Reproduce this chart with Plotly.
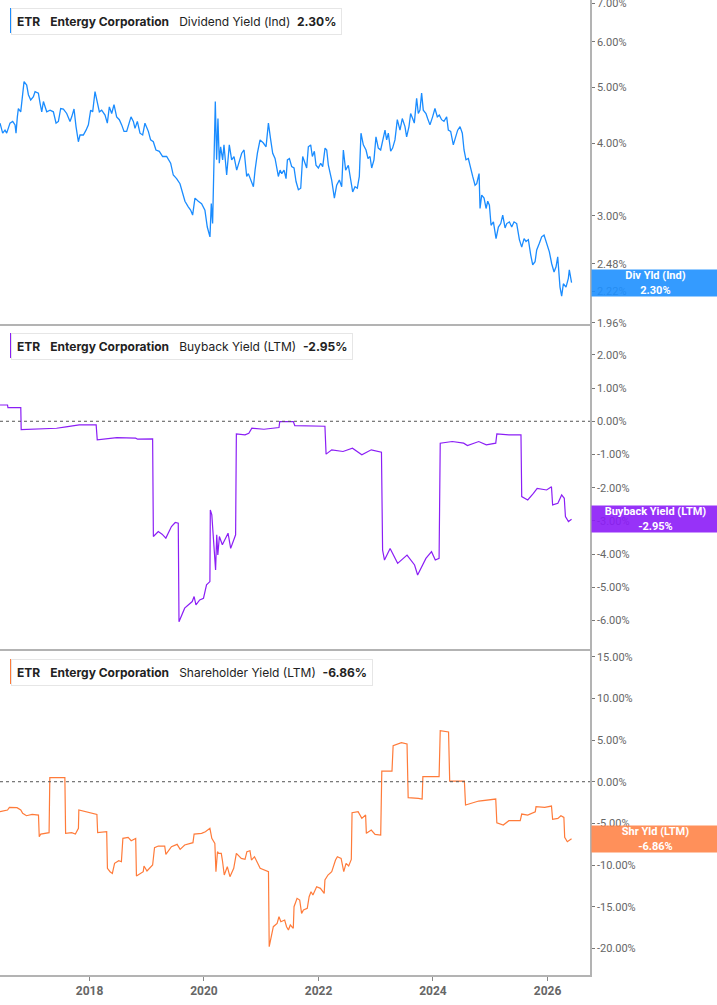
import numpy as np
import pandas as pd
import plotly.graph_objects as go

# ---------------- data (decimal years, percent) ----------------
div_years = [2016.437, 2016.483, 2016.524, 2016.553, 2016.611, 2016.658, 2016.699, 2016.716, 2016.739, 2016.757,
             2016.798, 2016.833, 2016.856, 2016.902, 2016.932, 2016.972, 2017.019, 2017.048, 2017.106, 2017.135,
             2017.165, 2017.194, 2017.252, 2017.310, 2017.368, 2017.415, 2017.456, 2017.496, 2017.543, 2017.601,
             2017.630, 2017.659, 2017.689, 2017.729, 2017.764, 2017.805, 2017.834, 2017.892, 2017.939, 2017.980,
             2018.020, 2018.055, 2018.096, 2018.137, 2018.172, 2018.212, 2018.271, 2018.311, 2018.346, 2018.387,
             2018.428, 2018.474, 2018.521, 2018.562, 2018.603, 2018.649, 2018.696, 2018.725, 2018.766, 2018.795,
             2018.836, 2018.882, 2018.929, 2018.969, 2019.028, 2019.068, 2019.115, 2019.161, 2019.220, 2019.278,
             2019.348, 2019.418, 2019.464, 2019.522, 2019.581, 2019.627, 2019.668, 2019.726, 2019.767, 2019.802,
             2019.843, 2019.901, 2019.959, 2020.017, 2020.058, 2020.105, 2020.128, 2020.151, 2020.175, 2020.198,
             2020.221, 2020.244, 2020.268, 2020.291, 2020.326, 2020.349, 2020.396, 2020.442, 2020.483, 2020.524,
             2020.571, 2020.617, 2020.658, 2020.699, 2020.745, 2020.774, 2020.815, 2020.862, 2020.891, 2020.932,
             2020.978, 2021.036, 2021.083, 2021.124, 2021.164, 2021.199, 2021.240, 2021.298,
             2021.328, 2021.357, 2021.397, 2021.432, 2021.456, 2021.491, 2021.531, 2021.572, 2021.607, 2021.648,
             2021.689, 2021.723, 2021.764, 2021.793, 2021.822, 2021.863, 2021.892, 2021.927, 2021.956, 2021.997,
             2022.038, 2022.073, 2022.114, 2022.143, 2022.172, 2022.230, 2022.277, 2022.317, 2022.364, 2022.405,
             2022.434, 2022.474, 2022.521, 2022.562, 2022.597, 2022.638, 2022.678, 2022.713, 2022.742, 2022.783,
             2022.830, 2022.865, 2022.900, 2022.929, 2022.969, 2023.004, 2023.045, 2023.086, 2023.121, 2023.162,
             2023.191, 2023.220, 2023.261, 2023.295, 2023.336, 2023.377, 2023.424, 2023.464, 2023.511, 2023.540,
             2023.581, 2023.610, 2023.645, 2023.674, 2023.715, 2023.744, 2023.773, 2023.802, 2023.831, 2023.878,
             2023.907, 2023.948, 2023.994, 2024.035, 2024.076, 2024.111, 2024.151, 2024.192, 2024.239, 2024.268,
             2024.309, 2024.355, 2024.396, 2024.431, 2024.472, 2024.512, 2024.542, 2024.576, 2024.617, 2024.658,
             2024.693, 2024.734, 2024.763, 2024.804, 2024.821, 2024.850, 2024.891, 2024.926, 2024.955, 2024.984,
             2025.013, 2025.054, 2025.100, 2025.141, 2025.182, 2025.217, 2025.258, 2025.287, 2025.333, 2025.374,
             2025.415, 2025.461, 2025.508, 2025.549, 2025.590, 2025.624, 2025.665, 2025.706, 2025.741, 2025.782,
             2025.811, 2025.857, 2025.898, 2025.939, 2025.986, 2026.032, 2026.073, 2026.114, 2026.149, 2026.178,
             2026.218, 2026.247, 2026.277, 2026.323, 2026.364, 2026.381, 2026.420]
div_values = [4.34, 4.17, 4.22, 4.17, 4.34, 4.37, 4.31, 4.17, 4.45, 4.60,
              4.54, 4.82, 5.12, 5.05, 4.86, 4.76, 4.82, 4.92, 4.89, 4.70,
              4.54, 4.73, 4.54, 4.57, 4.54, 4.34, 4.37, 4.60, 4.59, 4.51,
              4.42, 4.37, 4.45, 4.59, 4.28, 4.03, 4.14, 4.14, 4.22, 4.31,
              4.57, 4.54, 4.92, 4.70, 4.54, 4.57, 4.48, 4.34, 4.63, 4.51,
              4.67, 4.45, 4.40, 4.31, 4.20, 4.20, 4.37, 4.45, 4.37, 4.25,
              4.37, 4.17, 4.14, 4.34, 4.20, 4.06, 4.03, 3.90, 3.88, 3.80,
              3.80, 3.70, 3.53, 3.48, 3.41, 3.28, 3.18, 3.11, 3.07, 3.01,
              3.22, 3.18, 3.15, 3.07, 2.87, 2.76, 3.15, 2.91, 3.70, 4.73,
              3.75, 4.42, 3.70, 3.95, 3.75, 3.98, 3.53, 3.98, 3.75, 3.80,
              3.60, 3.75, 3.85, 3.90, 3.51, 3.55, 3.46, 3.37, 3.60, 3.85,
              4.06, 4.01, 3.95, 4.34, 4.06, 3.85, 3.77, 3.51,
              3.60, 3.55, 3.60, 3.48, 3.75, 3.77, 3.65, 3.63, 3.44, 3.33,
              3.35, 3.80, 3.70, 3.63, 3.95, 3.98, 3.80, 3.88, 3.67, 3.63,
              3.70, 3.65, 3.93, 3.90, 3.67, 3.46, 3.22, 3.39, 3.46, 3.37,
              3.90, 3.60, 3.67, 3.44, 3.30, 3.37, 3.35, 3.51, 4.17, 3.98,
              3.90, 3.77, 3.80, 3.63, 3.75, 4.11, 3.93, 3.90, 4.06, 4.22,
              4.06, 4.17, 3.88, 3.93, 4.06, 4.40, 4.22, 4.42, 4.28, 4.11,
              4.28, 4.51, 4.42, 4.34, 4.79, 4.51, 4.57, 4.89, 4.57, 4.51,
              4.42, 4.31, 4.45, 4.60, 4.45, 4.48, 4.40, 4.37, 4.45, 4.22,
              4.20, 3.98, 4.11, 4.22, 4.28, 4.17, 3.90, 3.75, 3.77, 3.60,
              3.51, 3.39, 3.41, 3.55, 3.09, 3.26, 3.22, 3.09, 3.18, 3.13,
              2.89, 2.93, 2.74, 2.87, 2.91, 3.01, 2.86, 2.91, 2.93, 2.87,
              2.93, 2.91, 2.73, 2.65, 2.74, 2.71, 2.73, 2.57, 2.47, 2.50,
              2.62, 2.69, 2.76, 2.78, 2.69, 2.60, 2.48, 2.40, 2.45, 2.55,
              2.26, 2.18, 2.29, 2.26, 2.34, 2.42, 2.30]

bb_years = [2016.437, 2016.568, 2016.575, 2016.799, 2016.806, 2017.424, 2017.589, 2017.819, 2018.116, 2018.135,
            2018.478, 2018.807, 2018.840, 2019.103, 2019.116, 2019.202, 2019.268, 2019.334, 2019.432, 2019.498,
            2019.551, 2019.564, 2019.663, 2019.795, 2019.828, 2019.860, 2019.926, 2019.992, 2020.045, 2020.104,
            2020.111, 2020.137, 2020.203, 2020.223, 2020.242, 2020.269, 2020.321, 2020.420, 2020.466, 2020.552,
            2020.565, 2020.716, 2020.782, 2020.835, 2021.046, 2021.309, 2021.322, 2021.559, 2021.585, 2022.112,
            2022.132, 2022.231, 2022.428, 2022.593, 2022.757, 2022.922, 2023.100, 2023.120, 2023.153, 2023.251,
            2023.383, 2023.547, 2023.679, 2023.732, 2023.877, 2023.975, 2024.041, 2024.107, 2024.127, 2024.337,
            2024.535, 2024.601, 2024.798, 2024.930, 2025.095, 2025.114, 2025.325, 2025.536, 2025.549, 2025.654,
            2025.753, 2025.819, 2025.984, 2026.069, 2026.089, 2026.181, 2026.247, 2026.293, 2026.313, 2026.366,
            2026.420]
bb_values = [0.49, 0.49, 0.41, 0.41, -0.25, -0.21, -0.17, -0.11, -0.11, -0.56,
             -0.49, -0.51, -0.54, -0.53, -3.47, -3.32, -3.40, -3.52, -3.17, -3.05,
             -3.07, -6.04, -5.63, -5.43, -5.28, -5.53, -5.38, -5.33, -4.93, -4.83,
             -2.67, -2.82, -4.48, -3.42, -4.03, -3.47, -3.72, -3.37, -3.83, -3.42,
             -0.38, -0.41, -0.36, -0.21, -0.24, -0.19, -0.01, -0.01, -0.13, -0.15,
             -0.99, -0.86, -0.91, -0.81, -1.01, -0.86, -0.93, -3.88, -4.18, -3.83,
             -4.28, -4.03, -4.33, -4.63, -4.13, -3.93, -4.18, -4.13, -0.66, -0.61,
             -0.66, -0.73, -0.61, -0.71, -0.66, -0.38, -0.41, -0.41, -2.27, -2.37,
             -2.17, -2.02, -2.07, -1.97, -2.52, -2.47, -2.22, -2.32, -2.87, -3.02,
             -2.95]

sh_years = [2016.437, 2016.568, 2016.601, 2016.733, 2016.799, 2016.832, 2016.898, 2016.996, 2017.108, 2017.121,
            2017.148, 2017.227, 2017.293, 2017.306, 2017.569, 2017.582, 2017.688, 2017.753, 2017.806, 2017.813,
            2017.951, 2018.129, 2018.142, 2018.300, 2018.313, 2018.359, 2018.399, 2018.438, 2018.511, 2018.557,
            2018.583, 2018.675, 2018.728, 2018.807, 2018.820, 2018.939, 2018.952, 2019.004, 2019.103, 2019.136,
            2019.202, 2019.314, 2019.334, 2019.432, 2019.531, 2019.584, 2019.663, 2019.808, 2019.828, 2019.959,
            2020.025, 2020.104, 2020.137, 2020.190, 2020.209, 2020.236, 2020.256, 2020.302, 2020.321, 2020.354,
            2020.407, 2020.453, 2020.519, 2020.565, 2020.651, 2020.716, 2020.749, 2020.802, 2020.828, 2020.881,
            2020.980, 2021.046, 2021.125, 2021.138, 2021.164, 2021.210, 2021.276, 2021.309, 2021.342, 2021.408,
            2021.441, 2021.474, 2021.507, 2021.559, 2021.572, 2021.625, 2021.671, 2021.704, 2021.737, 2021.803,
            2021.836, 2021.869, 2021.902, 2021.967, 2022.033, 2022.099, 2022.112, 2022.165, 2022.231, 2022.297,
            2022.330, 2022.395, 2022.441, 2022.481, 2022.527, 2022.573, 2022.586, 2022.692, 2022.757, 2022.823,
            2022.836, 2022.922, 2022.988, 2023.087, 2023.106, 2023.284, 2023.304, 2023.449, 2023.547, 2023.567,
            2023.745, 2023.811, 2023.824, 2024.107, 2024.127, 2024.272, 2024.292, 2024.548, 2024.568, 2024.798,
            2025.095, 2025.114, 2025.226, 2025.325, 2025.523, 2025.549, 2025.654, 2025.786, 2025.799, 2025.951,
            2026.069, 2026.089, 2026.181, 2026.234, 2026.286, 2026.300, 2026.346, 2026.392, 2026.420]
sh_values = [-3.60, -3.40, -3.08, -3.12, -3.40, -3.80, -4.08, -3.92, -4.00, -6.60,
             -6.28, -6.20, -6.12, 0.48, 0.48, -6.20, -6.12, -6.28, -5.60, -3.40,
             -3.60, -3.92, -6.12, -6.00, -10.40, -10.80, -11.00, -9.80, -9.48, -9.60,
             -6.80, -6.68, -7.08, -6.80, -11.32, -10.80, -10.12, -10.72, -10.00, -7.92,
             -7.72, -7.72, -8.72, -7.80, -7.52, -8.12, -7.60, -7.32, -6.28, -6.20,
             -6.00, -5.60, -6.80, -7.40, -10.80, -8.40, -8.60, -8.60, -9.40, -11.20,
             -10.20, -11.40, -10.40, -8.60, -9.20, -9.32, -8.40, -8.28, -9.40, -9.00,
             -10.40, -10.60, -10.80, -19.80, -19.00, -17.40, -17.00, -16.20, -16.80, -16.60,
             -17.40, -17.80, -17.20, -17.60, -15.00, -14.00, -14.20, -15.80, -15.40, -15.20,
             -13.80, -13.20, -13.60, -12.60, -12.80, -13.40, -11.80, -11.20, -10.80, -9.40,
             -9.00, -9.20, -10.80, -9.80, -10.12, -9.32, -3.72, -3.60, -4.40, -4.00,
             -6.20, -5.80, -6.32, -6.40, 1.28, 1.28, 4.33, 4.69, 4.53, -1.92,
             -2.00, -2.08, 0.60, 0.60, 6.13, 5.97, 0.08, 0.08, -2.80, -2.32,
             -2.08, -4.92, -5.20, -4.68, -4.68, -3.88, -4.00, -3.60, -3.00, -3.08,
             -2.92, -4.52, -4.40, -4.08, -4.28, -6.68, -7.20, -7.00, -6.86]

div_ticks = [1.96, 2.22, 2.48, 3.0, 4.0, 5.0, 6.0, 7.0]
bb_ticks = [2, 1, 0, -1, -2, -3, -4, -5, -6]
sh_ticks = [15, 10, 5, 0, -5, -10, -15, -20]
year_ticks = [2018, 2020, 2022, 2024, 2026]

legend_texts = [
    "<b>ETR</b>   <b>Entergy Corporation</b>   Dividend Yield (Ind)  <b>2.30%</b>",
    "<b>ETR</b>   <b>Entergy Corporation</b>   Buyback Yield (LTM)  <b>-2.95%</b>",
    "<b>ETR</b>   <b>Entergy Corporation</b>   Shareholder Yield (LTM)  <b>-6.86%</b>",
]
label_texts = ["Div Yld (Ind)<br>2.30%", "Buyback Yield (LTM)<br>-2.95%", "Shr Yld (LTM)<br>-6.86%"]
last_values = [2.30, -2.95, -6.86]

BLUE, PURPLE, ORANGE = "#1a8cff", "#8b1ff5", "#ff7b3a"
BOX_COLORS = ["rgba(30,144,255,0.9)", "rgba(140,28,247,0.9)", "rgba(255,132,72,0.9)"]


def to_date(y):
    yi = int(y)
    start = pd.Timestamp(year=yi, month=1, day=1)
    end = pd.Timestamp(year=yi + 1, month=1, day=1)
    return start + (end - start) * (y - yi)


W, H = 717, 1005
PW, PH = 590, 975  # plot area in px
def py(p):  # pixel y -> paper
    return 1 - p / PH
def px(p):
    return p / PW

fig = go.Figure()
fig.add_trace(go.Scatter(x=[to_date(v) for v in div_years], y=div_values, mode="lines",
                         line=dict(color=BLUE, width=1.3), xaxis="x", yaxis="y", showlegend=False))
fig.add_trace(go.Scatter(x=[to_date(v) for v in bb_years], y=bb_values, mode="lines",
                         line=dict(color=PURPLE, width=1.2), xaxis="x2", yaxis="y2", showlegend=False))
fig.add_trace(go.Scatter(x=[to_date(v) for v in sh_years], y=sh_values, mode="lines",
                         line=dict(color=ORANGE, width=1.2), xaxis="x3", yaxis="y3", showlegend=False))

xr = [to_date(2016.4367), to_date(2026.7424)]
line_col = "#b3b3b3"
tickfont = dict(family="Roboto, Arial, sans-serif", size=11, color="#666666")

common_x = dict(range=xr, type="date", showgrid=False, zeroline=False, showline=True,
                linecolor=line_col, linewidth=1.5, automargin=False)
d1 = [py(324), 1]
d2 = [py(649), py(324)]
d3 = [0, py(649)]
common_y = dict(side="right", showgrid=False, zeroline=False, showline=True, linecolor=line_col,
                linewidth=1.5, ticks="outside", ticklen=3, tickcolor="#777", tickfont=tickfont,
                ticklabeloverflow="allow", automargin=False)

fig.update_layout(
    width=W, height=H, margin=dict(l=0, r=W - PW, t=0, b=H - PH, autoexpand=False),
    paper_bgcolor="white", plot_bgcolor="white",
    xaxis=dict(common_x, anchor="y", showticklabels=False, ticks=""),
    xaxis2=dict(common_x, anchor="y2", matches="x", showticklabels=False, ticks=""),
    xaxis3=dict(common_x, anchor="y3", matches="x", ticks="outside", ticklen=4, tickcolor="#888",
                tickvals=[to_date(y) for y in year_ticks], ticktext=[str(y) for y in year_ticks],
                tickfont=dict(family="Roboto, Arial, sans-serif", size=12, color="#666666", weight="bold")),
    yaxis=dict(common_y, domain=d1, type="log", anchor="x",
               range=[0.2903, 0.8503], tickvals=div_ticks, ticktext=[f"{v:.2f}%" for v in div_ticks]),
    yaxis2=dict(common_y, domain=d2, anchor="x2", range=[-6.86, 2.93],
                tickvals=bb_ticks, ticktext=[f"{v:.2f}%" for v in bb_ticks]),
    yaxis3=dict(common_y, domain=d3, anchor="x3", range=[-23.2, 15.93],
                tickvals=sh_ticks, ticktext=[f"{v:.2f}%" for v in sh_ticks]),
)

# zero dotted lines
for xa, ya in [("x2 domain", "y2"), ("x3 domain", "y3")]:
    fig.add_shape(type="line", xref=xa, x0=0, x1=1,
                  yref=ya, y0=0, y1=0, line=dict(color="#555555", width=1, dash="dot"))

# legend boxes
tops = [8, 333, 659]
colors = [BLUE, PURPLE, ORANGE]
for t, txt, c in zip(tops, legend_texts, colors):
    fig.add_annotation(xref="paper", yref="paper", x=px(11), y=py(t), xanchor="left", yanchor="top",
                       text=txt, showarrow=False, align="left",
                       font=dict(family="Inter, Roboto, sans-serif", size=12, color="#222222"),
                       bgcolor="white", bordercolor="#e6e6e6", borderwidth=1, borderpad=5)
    fig.add_shape(type="rect", xref="paper", yref="paper", x0=px(10), x1=px(13), y0=py(t + 25), y1=py(t),
                  fillcolor=c, line=dict(width=0))

# right value labels
yrefs = ["y", "y2", "y3"]
for yr_, v, txt, bc in zip(yrefs, last_values, label_texts, BOX_COLORS):
    yy = np.log10(v) if yr_ == "y" else v
    fig.add_annotation(xref="paper", yref=yr_, x=1, y=yy, xanchor="left", yanchor="middle",
                       text=f"<b>{txt}</b>", showarrow=False, align="center",
                       font=dict(family="Roboto, Arial, sans-serif", size=11, color="white"),
                       bgcolor=bc, width=125, height=24, borderpad=1, xshift=1)

fig.write_html("out.html")
